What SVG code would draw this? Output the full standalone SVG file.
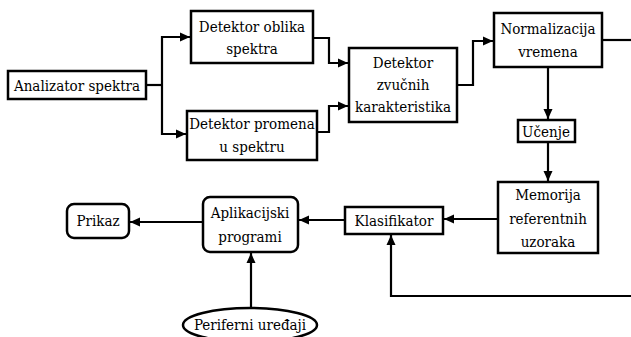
<svg xmlns="http://www.w3.org/2000/svg" width="631" height="337" viewBox="0 0 631 337">
<style>
.box{fill:#fff;stroke:#000;stroke-width:2.5}
.ln{fill:none;stroke:#000;stroke-width:2.2}
.arr{marker-end:url(#ah)}
text{font-family:'DejaVu Serif Condensed','DejaVu Serif',serif;font-stretch:condensed;font-size:15px;fill:#000;text-anchor:middle}
</style>
<defs>
<marker id="ah" markerUnits="userSpaceOnUse" markerWidth="11" markerHeight="10" refX="10" refY="5" orient="auto">
<path d="M0,0.5 L10,5 L0,9.5 z" fill="#000"/>
</marker>
</defs>
<rect width="631" height="337" fill="#fff"/>
<g id="connectors">
<path class="ln" d="M146,85 H162"/>
<path class="ln arr" d="M162,85 V37 H190"/>
<path class="ln arr" d="M162,85 V134 H186"/>
<path class="ln arr" d="M313,38 H329 V63 H348"/>
<path class="ln arr" d="M317,132 H329 V106 H348"/>
<path class="ln arr" d="M457,85 H473 V41 H493"/>
<path class="ln" d="M602,40 H631"/>
<path class="ln arr" d="M548,67 V119"/>
<path class="ln arr" d="M548,142 V181"/>
<path class="ln arr" d="M498,219 H444"/>
<path class="ln arr" d="M631,296 H391 V235"/>
<path class="ln arr" d="M345,220 H299"/>
<path class="ln arr" d="M203,222 H130"/>
<path class="ln arr" d="M251,308 V253"/>
</g>
<g id="analizator"><rect class="box" x="8" y="71" width="138" height="28"/><text x="77" y="91">Analizator spektra</text></g>
<g id="oblik"><rect class="box" x="191" y="11" width="122" height="52"/><text x="252" y="32">Detektor oblika</text><text x="252" y="54">spektra</text></g>
<g id="promena"><rect class="box" x="187" y="111" width="130" height="49"/><text x="252" y="129">Detektor promena</text><text x="252" y="152">u spektru</text></g>
<g id="zvucne"><rect class="box" x="349" y="48" width="108" height="74"/><text x="403" y="68">Detektor</text><text x="403" y="90">zvučnih</text><text x="403" y="112">karakteristika</text></g>
<g id="normalizacija"><rect class="box" x="494" y="13" width="108" height="54"/><text x="548" y="34">Normalizacija</text><text x="548" y="57">vremena</text></g>
<g id="ucenje"><rect class="box" x="518" y="120" width="57" height="22"/><text x="546" y="137">Učenje</text></g>
<g id="memorija"><rect class="box" x="498" y="182" width="100" height="71"/><text x="548" y="200">Memorija</text><text x="548" y="224">referentnih</text><text x="548" y="247">uzoraka</text></g>
<g id="klasifikator"><rect class="box" x="345" y="207" width="98" height="27"/><text x="394" y="226">Klasifikator</text></g>
<g id="aplikacijski"><rect class="box" x="203" y="197" width="95" height="55" rx="7"/><text x="250" y="218">Aplikacijski</text><text x="250" y="242">programi</text></g>
<g id="prikaz"><rect class="box" x="67" y="204" width="62" height="34" rx="7"/><text x="98" y="226">Prikaz</text></g>
<g id="periferni"><ellipse class="box" cx="250" cy="325" rx="67" ry="17"/><text x="250" y="330">Periferni uređaji</text></g>
</svg>
